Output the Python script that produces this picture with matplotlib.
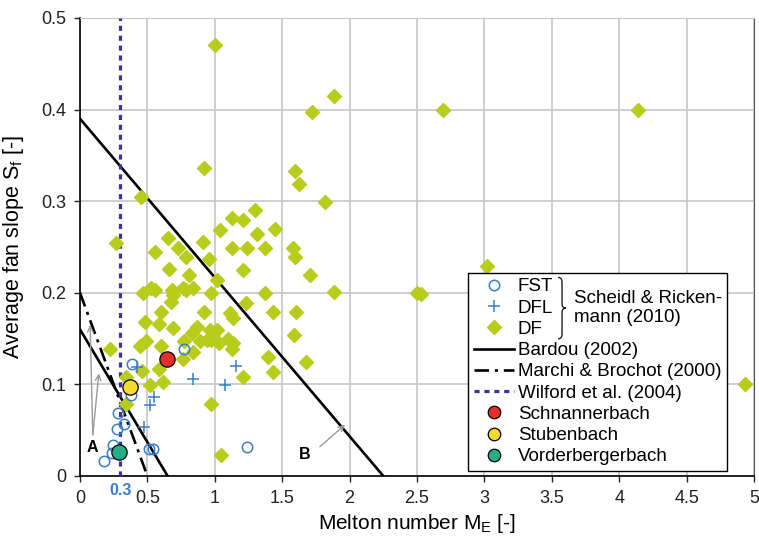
import numpy as np
import matplotlib
matplotlib.use('Agg')
import matplotlib.pyplot as plt
from matplotlib.lines import Line2D
from matplotlib.path import Path
from matplotlib.patches import PathPatch
from matplotlib.transforms import IdentityTransform

plt.rcParams['font.family'] = ['Liberation Sans', 'DejaVu Sans']
plt.rcParams['mathtext.default'] = 'regular'

# Scheidl & Rickenmann (2010) data
df_x = [1.00, 1.887, 1.719, 2.695, 4.137, 0.922, 1.597, 1.625, 1.817, 0.45,
        1.30, 1.13, 1.207, 1.036, 1.315, 1.444, 0.265, 0.655, 0.556, 0.73,
        0.915, 0.784, 0.96, 1.13, 1.236, 1.372, 1.578, 1.593, 0.663, 0.81,
        1.014, 1.207, 1.706, 3.017, 1.884, 2.50, 2.53, 0.47, 0.53, 0.56,
        0.68, 0.69, 0.766, 0.79, 0.84, 0.972, 1.372, 0.675, 1.234, 0.60,
        0.922, 1.113, 1.137, 1.43, 1.602, 0.482, 0.588, 0.692, 0.865, 0.829,
        0.964, 1.014, 0.487, 0.445, 0.598, 0.223, 0.774, 0.89, 0.94, 0.972,
        1.034, 1.10, 1.137, 1.125, 1.59, 0.84, 0.766, 1.397, 1.674, 0.588,
        0.462, 0.341, 0.618, 0.519, 1.43, 1.212, 0.341, 0.972, 1.046, 4.93]
df_y = [0.470, 0.415, 0.397, 0.400, 0.400, 0.336, 0.333, 0.319, 0.299, 0.305,
        0.290, 0.282, 0.280, 0.269, 0.264, 0.270, 0.254, 0.260, 0.245, 0.249,
        0.255, 0.239, 0.237, 0.249, 0.249, 0.249, 0.249, 0.239, 0.226, 0.219,
        0.214, 0.225, 0.219, 0.229, 0.201, 0.200, 0.199, 0.200, 0.205, 0.203,
        0.203, 0.198, 0.205, 0.203, 0.205, 0.200, 0.200, 0.190, 0.189, 0.179,
        0.179, 0.178, 0.173, 0.179, 0.179, 0.168, 0.166, 0.162, 0.163, 0.156,
        0.159, 0.159, 0.147, 0.142, 0.142, 0.139, 0.147, 0.147, 0.148, 0.148,
        0.145, 0.150, 0.145, 0.139, 0.154, 0.135, 0.128, 0.130, 0.125, 0.117,
        0.115, 0.108, 0.103, 0.099, 0.113, 0.108, 0.079, 0.079, 0.023, 0.100]

fst_x = [0.383, 0.77, 0.376, 0.28, 0.329, 0.277, 0.247, 0.235, 0.175, 0.51, 0.544, 1.236]
fst_y = [0.122, 0.139, 0.088, 0.069, 0.057, 0.051, 0.034, 0.025, 0.016, 0.029, 0.029, 0.032]

dfl_x = [0.42, 1.155, 0.84, 1.076, 0.552, 0.519, 0.477]
dfl_y = [0.119, 0.120, 0.106, 0.099, 0.086, 0.077, 0.053]

# study catchments
sites = ['Schnannerbach', 'Stubenbach', 'Vorderbergerbach']
site_x = [0.643, 0.371, 0.292]
site_y = [0.128, 0.0975, 0.0265]
site_col = ['#e2302a', '#f4d92e', '#27ad86']

# threshold lines
bardou_up_x, bardou_up_y = [0, 2.25], [0.39, 0]
bardou_lo_x, bardou_lo_y = [0, 0.65], [0.16, 0]
marchi_x, marchi_y = [0, 0.5], [0.2, 0]
wilford_m = 0.3

blue = '#3a7dc9'
green_df = '#b8cc1c'
dashdot = (0, (5.5, 2.2, 1.2, 2.2))
dots = (0, (1.6, 1.5))

W, H = 759, 539
fig = plt.figure(figsize=(W / 100, H / 100), dpi=100)
ax = fig.add_axes([80 / W, 63 / H, 674 / W, 458 / H])

ax.set_xlim(0, 5)
ax.set_ylim(0, 0.5)
ax.set_xticks(np.arange(0, 5.01, 0.5))
ax.set_xticklabels(['0', '0.5', '1', '1.5', '2', '2.5', '3', '3.5', '4', '4.5', '5'])
ax.set_yticks([0, 0.1, 0.2, 0.3, 0.4, 0.5])
ax.set_yticklabels(['0', '0.1', '0.2', '0.3', '0.4', '0.5'])
ax.tick_params(labelsize=13, length=4, width=1, pad=6, colors='#222222')
ax.grid(True, color='#c6c6c6', lw=1.2)
ax.set_axisbelow(True)
ax.spines['top'].set_color('#c6c6c6')
ax.spines['right'].set_color('#555555')
ax.spines['right'].set_linewidth(0.8)
for s in ['left', 'bottom']:
    ax.spines[s].set_linewidth(1.2)

ax.set_xlabel('Melton number M$_E$ [-]', fontsize=15, labelpad=4)
ax.set_ylabel('Average fan slope S$_f$ [-]', fontsize=15.5, labelpad=11)

ax.plot(bardou_up_x, bardou_up_y, color='black', lw=1.9, zorder=2)
ax.plot(bardou_lo_x, bardou_lo_y, color='black', lw=1.9, zorder=2)
ax.plot(marchi_x, marchi_y, color='black', lw=1.9, ls=dashdot, zorder=2)
ax.plot([wilford_m, wilford_m], [0, 0.5], color='#41309a', lw=2.3,
        ls=dots, zorder=3, clip_on=False)

ax.plot(df_x, df_y, 'D', ms=6.8, color=green_df, mec=green_df, zorder=4)
ax.plot(fst_x, fst_y, 'o', ms=7.5, mfc='none', mec=blue, mew=1.1, zorder=5)
ax.plot(dfl_x, dfl_y, '+', ms=9, color=blue, mew=1.1, zorder=5)
for x, y, c in zip(site_x, site_y, site_col):
    ax.plot(x, y, 'o', ms=11, mfc=c, mec='black', mew=0.9, zorder=6)

ax.text(wilford_m, -0.016, '0.3', color=blue, fontweight='bold', fontsize=11.5,
        ha='center', va='center')

# annotations A and B
arr = dict(arrowstyle='->', color='#9a9a9a', lw=1, shrinkA=0, shrinkB=0)
ax.annotate('', xy=(0.075, 0.165), xytext=(0.095, 0.045), arrowprops=arr)
ax.annotate('', xy=(0.14, 0.112), xytext=(0.095, 0.045), arrowprops=arr)
ax.text(0.09, 0.031, 'A', fontweight='bold', fontsize=11.5, ha='center', va='center')
ax.annotate('', xy=(1.966, 0.056), xytext=(1.78, 0.032), arrowprops=arr)
ax.text(1.67, 0.023, 'B', fontweight='bold', fontsize=11.5, ha='center', va='center')

handles = [
    Line2D([], [], ls='none', marker='o', ms=7.5, mfc='none', mec=blue, mew=1.1),
    Line2D([], [], ls='none', marker='+', ms=9, color=blue, mew=1.1),
    Line2D([], [], ls='none', marker='D', ms=6.8, color=green_df),
    Line2D([], [], color='black', lw=1.9),
    Line2D([], [], color='black', lw=1.9, ls=dashdot),
    Line2D([], [], color='#41309a', lw=2.3, ls=dots),
]
labels = ['FST', 'DFL', 'DF', 'Bardou (2002)', 'Marchi & Brochot (2000)', 'Wilford et al. (2004)']
for n, c in zip(sites, site_col):
    handles.append(Line2D([], [], ls='none', marker='o', ms=9, mfc=c, mec='black', mew=0.9))
    labels.append(n)

leg = ax.legend(handles, labels, loc='lower left',
                bbox_to_anchor=((468 - 80) / 674, (476 - 471) / 458),
                borderaxespad=0, fontsize=13.5, handlelength=2.15, handletextpad=0.2,
                labelspacing=0.22, borderpad=0.3, fancybox=False, framealpha=1,
                edgecolor='black')
leg.get_frame().set_linewidth(1)
leg.set_zorder(10)

# brace grouping the Scheidl & Rickenmann entries, placed from the legend rows
fig.canvas.draw()
r = fig.canvas.get_renderer()
tb_top = leg.get_texts()[0].get_window_extent(r)
tb_bot = leg.get_texts()[2].get_window_extent(r)
y1 = tb_top.y1 + 1
y0 = tb_bot.y0 - 1
ym = (y0 + y1) / 2
bx = tb_top.x1 + 5
pts = [(bx, y1), (bx + 4, y1), (bx + 4, y1 - 5), (bx + 4, ym + 4), (bx + 4, ym), (bx + 8, ym),
       (bx + 4, ym), (bx + 4, ym - 4), (bx + 4, y0 + 5), (bx + 4, y0), (bx, y0)]
codes = [Path.MOVETO, Path.CURVE3, Path.CURVE3, Path.LINETO, Path.CURVE3, Path.CURVE3,
         Path.CURVE3, Path.CURVE3, Path.LINETO, Path.CURVE3, Path.CURVE3]
fig.add_artist(PathPatch(Path(pts, codes), transform=IdentityTransform(), fc='none',
                         ec='#222222', lw=1, zorder=11))
fig.text((bx + 16) / W, ym / H, 'Scheidl & Ricken-\nmann (2010)', fontsize=13.5, ha='left',
         va='center', linespacing=1.1, zorder=11)

fig.savefig('out.png', dpi=100)
